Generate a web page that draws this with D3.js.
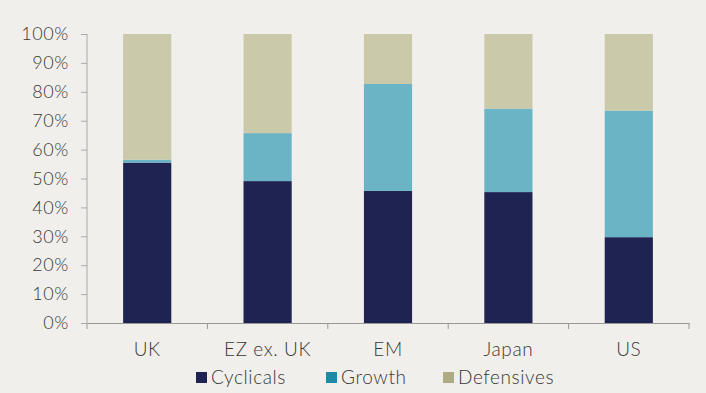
<!DOCTYPE html>
<html lang="en">
<head>
  <meta charset="UTF-8">
  <title>Sector mix by region</title>
  <script src="https://d3js.org/d3.v7.min.js"></script>
  <style>
    html, body {
      margin: 0;
      padding: 0;
      background: #f1efeb;
    }
    svg {
      display: block;
      font-family: Lato, "Open Sans", sans-serif;
      font-weight: 300;
    }
    .tick text, .legend text {
      fill: #383838;
      letter-spacing: 0.6px;
    }
  </style>
</head>
<body>
  <svg width="706" height="393"></svg>
  <script>
    // data (% of index)
    const regions = ["UK", "EZ ex. UK", "EM", "Japan", "US"];
    const cyclicals = [55.5, 49.1, 45.7, 45.3, 29.7];
    const growth = [1.0, 16.6, 37.0, 28.9, 43.8];
    const defensives = [43.5, 34.3, 17.3, 25.8, 26.5];
    const seriesNames = ["Cyclicals", "Growth", "Defensives"];
    const yTicks = [0, 10, 20, 30, 40, 50, 60, 70, 80, 90, 100];

    const barColors = ["#1f2352", "#6ab4c6", "#cac9a9"];
    const legendColors = ["#1f2352", "#1e8aa5", "#adab84"];

    const svg = d3.select("svg");
    const margin = { top: 34, right: 17, bottom: 70, left: 87 };
    const width = 706 - margin.left - margin.right;
    const height = 393 - margin.top - margin.bottom;

    const rows = regions.map((r, i) => ({
      region: r,
      Cyclicals: cyclicals[i],
      Growth: growth[i],
      Defensives: defensives[i]
    }));
    const stacked = d3.stack().keys(seriesNames)(rows);

    const x = d3.scaleBand()
      .domain(regions)
      .range([0, width])
      .paddingInner(0.6)
      .paddingOuter(0.3);

    const y = d3.scaleLinear()
      .domain([0, 100])
      .range([height, 0]);

    const g = svg.append("g")
      .attr("transform", `translate(${margin.left},${margin.top})`);

    // bars
    g.selectAll(".layer")
      .data(stacked)
      .enter().append("g")
      .attr("class", "layer")
      .attr("fill", (d, i) => barColors[i])
      .selectAll("rect")
      .data(d => d)
      .enter().append("rect")
      .attr("x", d => x(d.data.region))
      .attr("width", x.bandwidth())
      .attr("y", d => y(d[1]))
      .attr("height", d => y(d[0]) - y(d[1]));

    // y axis
    const yAxis = g.append("g")
      .call(d3.axisLeft(y).tickValues(yTicks).tickFormat(d => d + "%").tickSize(6).tickPadding(12))
      .attr("font-family", null);
    yAxis.selectAll("line, path").attr("stroke", "#aaa");
    yAxis.select(".domain").attr("d", `M0,0V${height}`);
    yAxis.selectAll("text").style("font-size", "18px");

    // x axis, ticks sit on the band boundaries
    const xAxis = g.append("g")
      .attr("transform", `translate(0,${height})`)
      .call(d3.axisBottom(x).tickSize(0).tickPadding(20))
      .attr("font-family", null);
    xAxis.select(".domain").attr("stroke", "#999");
    xAxis.selectAll("text").style("font-size", "19px");

    xAxis.selectAll(".bound")
      .data(d3.range(regions.length + 1))
      .enter().append("line")
      .attr("class", "bound")
      .attr("x1", i => i * x.step())
      .attr("x2", i => i * x.step())
      .attr("y1", 0)
      .attr("y2", 6)
      .attr("stroke", "#999");

    // legend
    const legend = svg.append("g").attr("class", "legend");
    const legendX = [196, 326, 443];
    seriesNames.forEach((name, i) => {
      const item = legend.append("g").attr("transform", `translate(${legendX[i]},372)`);
      item.append("rect")
        .attr("width", 11)
        .attr("height", 11)
        .attr("fill", legendColors[i]);
      item.append("text")
        .attr("x", 15)
        .attr("y", 12)
        .style("font-size", "19px")
        .text(name);
    });
  </script>
</body>
</html>
